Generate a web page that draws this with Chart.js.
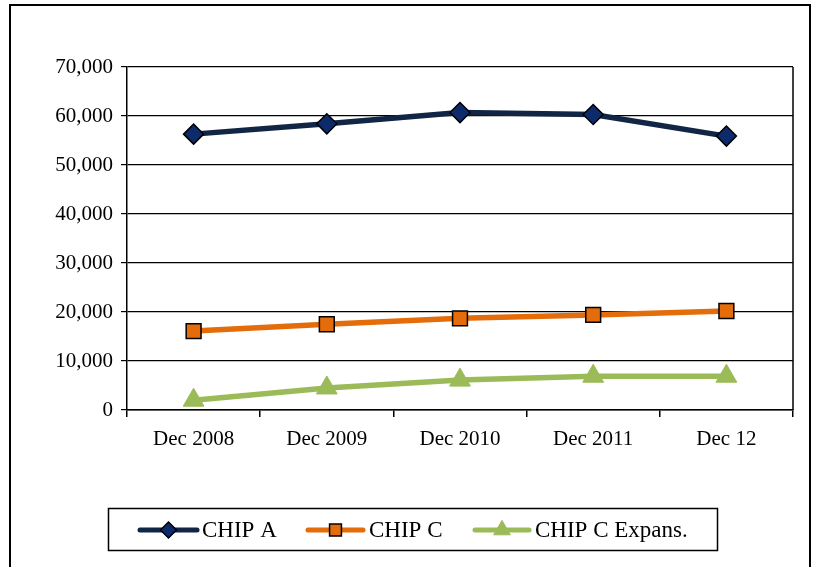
<!DOCTYPE html>
<html>
<head>
<meta charset="utf-8">
<script src="https://cdn.jsdelivr.net/npm/chart.js@4/dist/chart.umd.min.js"></script>
<style>
  html, body { margin: 0; padding: 0; background: #fff; }
  #wrap { position: relative; width: 822px; height: 567px; }
  #frame { position: absolute; left: 9px; top: 4px; width: 798px; height: 620px; border: 2px solid #000; pointer-events: none; }
</style>
</head>
<body>
<div id="wrap">
  <canvas id="c" width="822" height="567"></canvas>
  <div id="frame"></div>
</div>
<script>
const categories = ['Dec 2008', 'Dec 2009', 'Dec 2010', 'Dec 2011', 'Dec 12'];
const chipA = [56300, 58400, 60700, 60300, 55900];
const chipC = [16100, 17500, 18700, 19400, 20200];
const chipCExp = [2000, 4500, 6100, 6900, 6900];
const seriesNames = ['CHIP A', 'CHIP C', 'CHIP C Expans.'];
const yTicks = { min: 0, max: 70000, step: 10000 };

const FONT = '"Liberation Serif", "Times New Roman", serif';

const legendPlugin = {
  id: 'customLegend',
  afterDraw(chart) {
    const ctx = chart.ctx;
    ctx.save();
    // legend box
    ctx.strokeStyle = '#000';
    ctx.lineWidth = 1.5;
    ctx.strokeRect(108.5, 508.5, 609, 42);
    const cy = 530;
    const items = [
      { x0: 140, x1: 197, tx: 202 },
      { x0: 308, x1: 363, tx: 369 },
      { x0: 475, x1: 529, tx: 535 }
    ];
    chart.data.datasets.forEach((ds, i) => {
      const it = items[i];
      ctx.strokeStyle = ds.borderColor;
      ctx.lineWidth = 5;
      ctx.lineCap = 'round';
      ctx.beginPath();
      ctx.moveTo(it.x0, cy);
      ctx.lineTo(it.x1, cy);
      ctx.stroke();
      const mx = (it.x0 + it.x1) / 2;
      ctx.lineCap = 'butt';
      ctx.fillStyle = ds.pointBackgroundColor;
      ctx.strokeStyle = ds.pointBorderColor;
      ctx.lineWidth = ds.pointBorderWidth;
      Chart.helpers.drawPoint(ctx, {
        pointStyle: ds.pointStyle,
        radius: ds.pointRadius * 0.8,
        borderWidth: ds.pointBorderWidth,
        rotation: 0
      }, mx, cy);
      ctx.fillStyle = '#000';
      ctx.font = '23px ' + FONT;
      ctx.textBaseline = 'middle';
      ctx.textAlign = 'left';
      ctx.fillText(ds.label, it.tx, cy + 1);
    });
    // right border of plot area
    const a = chart.chartArea;
    ctx.strokeStyle = '#000';
    ctx.lineWidth = 1.5;
    ctx.beginPath();
    ctx.moveTo(a.right, a.top);
    ctx.lineTo(a.right, a.bottom);
    ctx.stroke();
    ctx.restore();
  }
};

new Chart(document.getElementById('c'), {
  type: 'line',
  data: {
    labels: categories,
    datasets: [
      {
        label: seriesNames[0], data: chipA,
        borderColor: '#112544', borderWidth: 5.5,
        pointStyle: 'rectRot', pointRadius: 10,
        pointBackgroundColor: '#0d2b6b', pointBorderColor: '#000', pointBorderWidth: 1.5,
        tension: 0
      },
      {
        label: seriesNames[1], data: chipC,
        borderColor: '#e46c0a', borderWidth: 5.5,
        pointStyle: 'rect', pointRadius: 10.5,
        pointBackgroundColor: '#e46c0a', pointBorderColor: '#000', pointBorderWidth: 1.5,
        tension: 0
      },
      {
        label: seriesNames[2], data: chipCExp,
        borderColor: '#9bbb59', borderWidth: 5.5,
        pointStyle: 'triangle', pointRadius: 12,
        pointBackgroundColor: '#9bbb59', pointBorderColor: '#9bbb59', pointBorderWidth: 1,
        tension: 0
      }
    ]
  },
  options: {
    responsive: false,
    animation: false,
    devicePixelRatio: 1,
    layout: { padding: { left: 0, right: 29, top: 67, bottom: 117 } },
    plugins: { legend: { display: false }, tooltip: { enabled: false } },
    scales: {
      x: {
        offset: true,
        afterFit(scale) { scale.height = 40; },
        grid: { offset: true, drawOnChartArea: false, drawTicks: true, tickLength: 7, color: '#000', lineWidth: 1.5 },
        border: { display: true, color: '#000', width: 1.5 },
        ticks: { color: '#000', font: { family: FONT, size: 21 }, padding: 10, maxRotation: 0 }
      },
      y: {
        min: yTicks.min, max: yTicks.max,
        afterFit(scale) { scale.width = 127; },
        grid: { color: '#000', lineWidth: 1.2, tickLength: 6, drawTicks: true },
        border: { display: true, color: '#000', width: 1.5 },
        ticks: {
          stepSize: yTicks.step, color: '#000', padding: 8,
          font: { family: FONT, size: 21 },
          callback: v => v.toLocaleString('en-US')
        }
      }
    }
  },
  plugins: [legendPlugin]
});
</script>
</body>
</html>
